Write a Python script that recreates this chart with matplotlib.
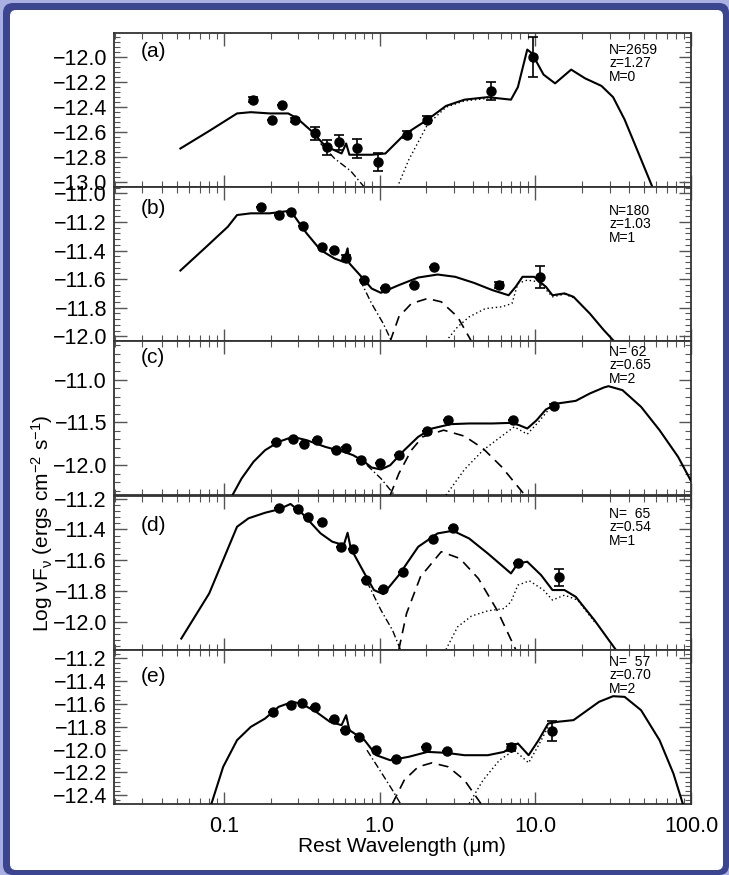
import matplotlib
matplotlib.use("Agg")
import matplotlib.pyplot as plt
from matplotlib.patches import FancyBboxPatch
from matplotlib.transforms import IdentityTransform
from matplotlib.ticker import MultipleLocator, AutoMinorLocator, FuncFormatter, LogLocator

plt.rcParams["font.family"] = ["Liberation Sans", "DejaVu Sans"]
plt.rcParams["mathtext.fontset"] = "custom"
plt.rcParams["mathtext.rm"] = "Liberation Sans"
plt.rcParams["mathtext.it"] = "Liberation Sans"
plt.rcParams["mathtext.default"] = "regular"

# ---- panel (a) ----
a_tot_wl = [0.0526, 0.0805, 0.1215, 0.149, 0.197, 0.259, 0.296, 0.365, 0.448, 0.570, 0.61, 0.64,
            0.889, 1.09, 1.44, 2.03, 2.67, 3.51, 4.95, 6.98, 7.73, 8.88, 9.51, 11.3, 13.4, 17.0,
            20.9, 26.6, 31.6, 37.5, 46.1, 56.6]
a_tot_lf = [-12.73, -12.59, -12.45, -12.44, -12.45, -12.45, -12.49, -12.59, -12.71, -12.77, -12.69, -12.78,
            -12.78, -12.77, -12.62, -12.50, -12.39, -12.34, -12.32, -12.34, -12.24, -11.94, -11.97, -12.14,
            -12.21, -12.10, -12.17, -12.23, -12.32, -12.50, -12.77, -13.04]
a_star_wl = [0.418, 0.514, 0.653, 0.80]
a_star_lf = [-12.69, -12.81, -12.91, -13.04]
a_hot_wl = []
a_hot_lf = []
a_cold_wl = [1.30, 1.54, 2.03, 2.67, 3.51, 4.95]
a_cold_lf = [-13.04, -12.82, -12.54, -12.40, -12.35, -12.33]
a_pt_wl = [0.154, 0.203, 0.237, 0.286, 0.383, 0.457, 0.55, 0.714, 0.973, 1.50, 2.03, 5.23, 9.64]
a_pt_lf = [-12.34, -12.50, -12.38, -12.50, -12.61, -12.72, -12.68, -12.73, -12.84, -12.62, -12.50, -12.27, -12.00]
a_pt_err = [0.02, 0.0, 0.0, 0.015, 0.05, 0.06, 0.06, 0.075, 0.073, 0.03, 0.03, 0.073, 0.16]

# ---- panel (b) ----
b_tot_wl = [0.0526, 0.0752, 0.106, 0.1215, 0.149, 0.197, 0.268, 0.340, 0.418, 0.514, 0.589, 0.623, 0.64,
            0.80, 0.889, 1.02, 1.33, 1.77, 2.36, 3.06, 4.03, 5.30, 6.74, 7.48, 8.28, 9.84, 11.7, 12.9,
            15.4, 17.6, 22.4, 27.6, 32.1]
b_tot_lf = [-11.54, -11.385, -11.234, -11.152, -11.14, -11.14, -11.122, -11.28, -11.397, -11.456, -11.48,
            -11.385, -11.49, -11.607, -11.666, -11.696, -11.642, -11.589, -11.568, -11.584, -11.626, -11.677,
            -11.713, -11.654, -11.584, -11.584, -11.654, -11.713, -11.70, -11.724, -11.841, -11.958, -12.035]
b_star_wl = [0.75, 0.889, 1.056, 1.195]
b_star_lf = [-11.607, -11.771, -11.911, -12.035]
b_hot_wl = [1.17, 1.33, 1.60, 2.03, 2.49, 3.17, 3.89]
b_hot_lf = [-12.035, -11.864, -11.771, -11.736, -11.759, -11.864, -12.035]
b_cold_wl = [2.67, 3.17, 3.76, 4.78, 6.08, 7.08, 7.73, 8.88, 10.5, 12.9, 15.4, 17.6]
b_cold_lf = [-12.035, -11.934, -11.864, -11.806, -11.794, -11.771, -11.631, -11.607, -11.619, -11.724,
             -11.705, -11.73]
b_pt_wl = [0.174, 0.225, 0.268, 0.322, 0.427, 0.507, 0.61, 0.80, 1.08, 1.67, 2.25, 5.88, 10.7]
b_pt_lf = [-11.098, -11.152, -11.128, -11.229, -11.374, -11.397, -11.449, -11.603, -11.659, -11.638,
           -11.514, -11.643, -11.584]
b_pt_err = [0, 0, 0, 0, 0, 0, 0.02, 0, 0, 0, 0, 0.02, 0.078]

# ---- panel (c) ----
c_tot_wl = [0.1135, 0.130, 0.155, 0.184, 0.225, 0.277, 0.340, 0.448, 0.589, 0.676, 0.80, 0.889, 1.02,
            1.17, 1.44, 1.77, 2.17, 2.86, 3.76, 5.30, 6.98, 7.89, 8.88, 10.2, 11.7, 13.87, 18.2, 22.4,
            27.6, 29.5, 36.3, 47.8, 62.8, 82.6, 99.4]
c_tot_lf = [-12.35, -12.155, -11.96, -11.825, -11.727, -11.669, -11.708, -11.786, -11.844, -11.883, -11.961,
            -12.027, -12.05, -12.0, -11.825, -11.669, -11.572, -11.521, -11.513, -11.513, -11.506, -11.533,
            -11.572, -11.475, -11.35, -11.28, -11.249, -11.163, -11.093, -11.078, -11.124, -11.319, -11.591,
            -11.902, -12.175]
c_star_wl = [0.83, 1.02, 1.25]
c_star_lf = [-12.0, -12.155, -12.35]
c_hot_wl = [1.17, 1.33, 1.60, 1.89, 2.58, 3.51, 4.62, 6.08, 8.58]
c_hot_lf = [-12.35, -12.097, -11.825, -11.669, -11.591, -11.661, -11.805, -12.019, -12.35]
c_cold_wl = [2.67, 3.51, 4.62, 6.08, 7.33, 8.88, 10.5, 12.1]
c_cold_lf = [-12.35, -12.05, -11.825, -11.661, -11.552, -11.638, -11.494, -11.358]
c_pt_wl = [0.215, 0.277, 0.329, 0.396, 0.525, 0.61, 0.76, 1.0, 1.33, 2.03, 2.76, 7.22, 13.1]
c_pt_lf = [-11.727, -11.70, -11.747, -11.708, -11.817, -11.805, -11.934, -11.973, -11.883, -11.60,
           -11.475, -11.475, -11.311]
c_pt_err = [0, 0, 0, 0, 0, 0.02, 0, 0, 0, 0, 0, 0, 0.02]

# ---- panel (d) ----
d_tot_wl = [0.0533, 0.0805, 0.1215, 0.144, 0.184, 0.225, 0.268, 0.318, 0.418, 0.497, 0.589, 0.623, 0.653,
            0.80, 0.92, 1.056, 1.33, 1.77, 2.36, 2.96, 3.76, 4.95, 6.30, 6.98, 7.73, 8.88, 10.9, 12.9,
            15.4, 18.2, 24.0, 32.8]
d_tot_lf = [-12.109, -11.816, -11.383, -11.328, -11.292, -11.27, -11.235, -11.296, -11.426, -11.48, -11.502,
            -11.422, -11.523, -11.686, -11.794, -11.82, -11.697, -11.513, -11.426, -11.409, -11.459, -11.556,
            -11.647, -11.686, -11.621, -11.61, -11.697, -11.794, -11.794, -11.838, -11.99, -12.18]
d_star_wl = [0.83, 1.02, 1.21, 1.36]
d_star_lf = [-11.74, -11.924, -12.054, -12.18]
d_hot_wl = [1.33, 1.49, 1.83, 2.49, 3.28, 4.31, 5.68, 7.48]
d_hot_lf = [-12.18, -11.946, -11.708, -11.545, -11.589, -11.719, -11.924, -12.18]
d_cold_wl = [2.67, 3.17, 3.89, 4.95, 6.30, 6.98, 7.73, 9.17, 11.3, 12.9, 15.4, 18.7, 24.0]
d_cold_lf = [-12.18, -12.033, -11.963, -11.929, -11.914, -11.87, -11.762, -11.734, -11.794, -11.859,
             -11.827, -11.859, -12.0]
d_pt_wl = [0.226, 0.298, 0.348, 0.424, 0.562, 0.676, 0.813, 1.056, 1.42, 2.20, 2.96, 7.73, 14.2]
d_pt_lf = [-11.263, -11.27, -11.318, -11.354, -11.517, -11.53, -11.729, -11.79, -11.675, -11.465,
           -11.394, -11.621, -11.712]
d_pt_err = [0, 0, 0, 0, 0, 0, 0, 0, 0, 0, 0, 0, 0.056]

# ---- panel (e) ----
e_tot_wl = [0.0833, 0.099, 0.1215, 0.149, 0.184, 0.225, 0.277, 0.318, 0.391, 0.48, 0.570, 0.61, 0.64,
            0.80, 0.953, 1.17, 1.54, 2.03, 2.67, 3.51, 4.95, 6.30, 6.98, 7.73, 9.06, 10.5, 12.1, 13.87,
            17.6, 20.9, 25.7, 31.6, 37.5, 47.8, 62.8, 77.1, 88.5]
e_tot_lf = [-12.473, -12.151, -11.917, -11.80, -11.727, -11.624, -11.58, -11.60, -11.668, -11.756, -11.785,
            -11.698, -11.829, -11.917, -12.049, -12.093, -12.063, -12.02, -12.028, -12.049, -12.049, -12.02,
            -11.976, -11.946, -12.049, -11.917, -11.771, -11.756, -11.741, -11.668, -11.58, -11.531, -11.537,
            -11.654, -11.917, -12.21, -12.473]
e_star_wl = [0.83, 1.02, 1.21, 1.36]
e_star_lf = [-12.005, -12.195, -12.356, -12.473]
e_hot_wl = [1.21, 1.44, 1.77, 2.17, 2.76, 3.51, 4.47]
e_hot_lf = [-12.473, -12.268, -12.151, -12.116, -12.151, -12.268, -12.473]
e_cold_wl = [3.76, 4.62, 5.88, 7.33, 9.06, 10.5, 12.1]
e_cold_lf = [-12.473, -12.268, -12.093, -12.005, -12.116, -11.961, -11.80]
e_pt_wl = [0.208, 0.268, 0.318, 0.387, 0.507, 0.60, 0.733, 0.953, 1.28, 1.99, 2.70, 6.98, 12.8]
e_pt_lf = [-11.668, -11.61, -11.589, -11.624, -11.727, -11.829, -11.888, -11.999, -12.078, -11.976,
           -12.014, -11.98, -11.835]
e_pt_err = [0, 0, 0, 0, 0, 0, 0, 0, 0, 0, 0, 0.03, 0.09]

tags = ["(a)", "(b)", "(c)", "(d)", "(e)"]
infos = ["N=2659\nz=1.27\nM=0", "N=180\nz=1.03\nM=1", "N= 62\nz=0.65\nM=2",
         "N=  65\nz=0.54\nM=1", "N=  57\nz=0.70\nM=2"]
ylims = [(-13.04, -11.81), (-12.035, -10.958), (-12.35, -10.553), (-12.18, -11.18), (-12.473, -11.121)]
ysteps = [0.2, 0.2, 0.5, 0.2, 0.2]

panels = [
    (a_tot_wl, a_tot_lf, a_star_wl, a_star_lf, a_hot_wl, a_hot_lf, a_cold_wl, a_cold_lf, a_pt_wl, a_pt_lf, a_pt_err),
    (b_tot_wl, b_tot_lf, b_star_wl, b_star_lf, b_hot_wl, b_hot_lf, b_cold_wl, b_cold_lf, b_pt_wl, b_pt_lf, b_pt_err),
    (c_tot_wl, c_tot_lf, c_star_wl, c_star_lf, c_hot_wl, c_hot_lf, c_cold_wl, c_cold_lf, c_pt_wl, c_pt_lf, c_pt_err),
    (d_tot_wl, d_tot_lf, d_star_wl, d_star_lf, d_hot_wl, d_hot_lf, d_cold_wl, d_cold_lf, d_pt_wl, d_pt_lf, d_pt_err),
    (e_tot_wl, e_tot_lf, e_star_wl, e_star_lf, e_hot_wl, e_hot_lf, e_cold_wl, e_cold_lf, e_pt_wl, e_pt_lf, e_pt_err),
]

W, H = 729, 875
fig = plt.figure(figsize=(W / 100, H / 100), dpi=100)
fig.patch.set_facecolor("#aab0df")

# slide-like frame: dark blue band, white rounded inner area
frame = FancyBboxPatch((3, 0), W - 3, H - 3, boxstyle="round,pad=0,rounding_size=10",
                       transform=IdentityTransform(), facecolor="#3b4590", edgecolor="none", zorder=-10)
inner = FancyBboxPatch((10, 5), 713, 860, boxstyle="round,pad=0,rounding_size=6",
                       transform=IdentityTransform(), facecolor="white", edgecolor="none", zorder=-9)
fig.patches.extend([frame, inner])

left, right = 114, 691
tops = [33.3, 187.3, 341.2, 495.5, 649.5]
ph = 154
tag_off = [18, 21, 16, 30, 27]
info_pos = [(609, 43), (609, 204), (609, 345), (609, 507), (609, 655)]
spine_col = "#333333"

for i, (tw, tl, sw, sl, hw, hl, cw, cl, pw, pl, pe) in enumerate(panels):
    ax = fig.add_axes([left / W, 1 - (tops[i] + ph) / H, (right - left) / W, ph / H])
    ax.set_xscale("log")
    ax.set_xlim(0.0197, 100)
    ax.set_ylim(*ylims[i])

    ax.plot(tw, tl, color="black", lw=1.5, zorder=4)
    if sw:
        ax.plot(sw, sl, color="black", lw=1.0, ls=(0, (5, 2, 1, 2)), zorder=3)
    if hw:
        ax.plot(hw, hl, color="black", lw=1.2, ls=(0, (6, 4)), zorder=3)
    if cw:
        ax.plot(cw, cl, color="black", lw=1.0, ls=(0, (1, 2)), zorder=3)
    ax.errorbar(pw, pl, yerr=pe, fmt="o", ms=6.5, color="black", ecolor="black",
                elinewidth=1.2, capsize=3.5, capthick=1.2, zorder=5)

    ax.yaxis.set_major_locator(MultipleLocator(ysteps[i]))
    ax.yaxis.set_minor_locator(AutoMinorLocator(5))
    ax.yaxis.set_major_formatter(FuncFormatter(lambda v, p: f"{v:.1f}".replace("-", "\u2212")))
    ax.xaxis.set_major_locator(LogLocator(base=10, numticks=10))
    ax.xaxis.set_minor_locator(LogLocator(base=10, subs=range(2, 10), numticks=20))
    ax.xaxis.set_major_formatter(FuncFormatter(lambda v, p: f"{v:.1f}"))

    ax.tick_params(which="both", direction="in", top=True, right=True, color="#555555")
    ax.tick_params(which="major", length=9, width=1.0)
    ax.tick_params(which="minor", length=4.5, width=0.8)
    ax.tick_params(axis="y", labelsize=15.5, pad=5)
    ax.tick_params(axis="x", labelsize=15.5, pad=9)
    if i < 4:
        ax.tick_params(labelbottom=False)
    for s in ax.spines.values():
        s.set_color(spine_col)
        s.set_linewidth(1.3)

    ax.text((141 - left) / (right - left), 1 - tag_off[i] / ph, tags[i],
            transform=ax.transAxes, fontsize=15, ha="left", va="center")
    fig.text(info_pos[i][0] / W, 1 - info_pos[i][1] / H, infos[i], fontsize=10,
             ha="left", va="top", linespacing=0.95)

fig.text(42 / W, 1 - 523 / H, r"Log νF$_{\nu}$ (ergs cm$^{-2}$ s$^{-1}$)", rotation=90,
         fontsize=15, ha="center", va="center")
fig.text(402 / W, 1 - 847 / H, "Rest Wavelength (μm)", fontsize=15, ha="center", va="center")

fig.savefig("out.png", dpi=100, facecolor=fig.get_facecolor())
